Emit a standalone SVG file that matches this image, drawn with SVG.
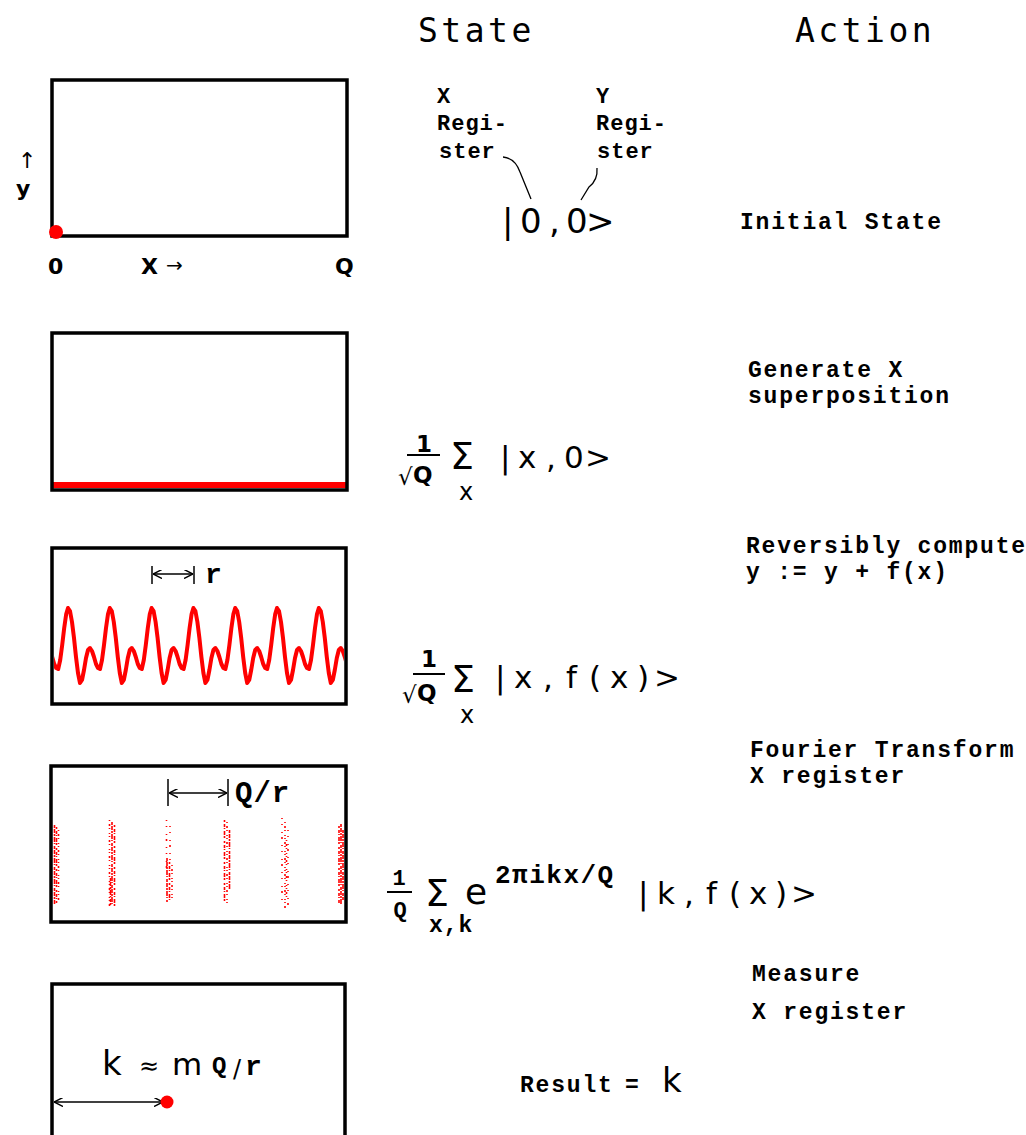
<svg xmlns="http://www.w3.org/2000/svg" width="1026" height="1135" viewBox="0 0 1026 1135">
<style>
.bg{fill:#fff}
.box{fill:none;stroke:#000;stroke-width:3.5}
.hdr{font-family:"DejaVu Sans Mono",monospace;font-size:33px;letter-spacing:3.5px;fill:#000}
.act{font-family:"Liberation Mono","Courier New",monospace;font-weight:bold;font-size:23px;letter-spacing:1.8px;fill:#000}
.reg{font-family:"Liberation Mono","Courier New",monospace;font-weight:bold;font-size:22px;letter-spacing:1px;fill:#000}
.cb{font-family:"Liberation Mono","Courier New",monospace;font-weight:bold;fill:#000}
.ss{font-family:"DejaVu Sans",sans-serif;fill:#000}
.sb{font-family:"DejaVu Sans",sans-serif;font-weight:bold;fill:#000}
.ket{font-family:"DejaVu Sans",sans-serif;font-size:31px;fill:#000}
.thin{fill:none;stroke:#000;stroke-width:1.3}
.bar{stroke:#000;stroke-width:2}
.dim{stroke:#000;stroke-width:1.5;fill:none}
.red{fill:#f00}
.wave{fill:none;stroke:#f00;stroke-width:4;stroke-linejoin:round}
.sp{stroke:#f00;stroke-width:1.6;fill:none}
.a{stroke-dasharray:3 1 4 1 2 1 5 1 1 2}
.b{stroke-dasharray:2 2 3 1 1 2 4 1 2 3}
.c{stroke-dasharray:1 3 2 2 1 4 1 2}
.d{stroke-dasharray:1 5 1 7 1 4 2 6}
</style>
<defs>
<marker id="ah" viewBox="0 0 10 10" refX="10" refY="5" markerWidth="9" markerHeight="9" markerUnits="userSpaceOnUse" orient="auto-start-reverse">
<path d="M0,0 L10,5 L0,10" fill="none" stroke="#000" stroke-width="1.6"/>
</marker>
<clipPath id="clip3"><rect x="54" y="550" width="290" height="152"/></clipPath>
</defs>
<rect class="bg" x="0" y="0" width="1026" height="1135"/>

<g id="header">
<text class="hdr" x="418" y="42">State</text>
<text class="hdr" x="795" y="42">Action</text>
</g>

<g id="panel-1">
<rect class="box" x="52" y="80" width="295" height="156"/>
<circle class="red" cx="56" cy="232" r="7"/>
<text class="ss" x="18" y="168" font-size="22">↑</text>
<text class="sb" x="16" y="196" font-size="22">y</text>
<text class="sb" x="48" y="274" font-size="22">0</text>
<text class="sb" x="141" y="274" font-size="22">X</text>
<text class="ss" x="166" y="272" font-size="20">→</text>
<text class="sb" x="335" y="274" font-size="22">Q</text>
</g>

<g id="state-1">
<text class="reg" x="437" y="103">X</text>
<text class="reg" x="437" y="130">Regi-</text>
<text class="reg" x="439" y="158">ster</text>
<text class="reg" x="596" y="103">Y</text>
<text class="reg" x="596" y="130">Regi-</text>
<text class="reg" x="597" y="158">ster</text>
<text class="ss" font-size="34" x="502 520 549 566 586" y="233">|0,0&gt;</text>
</g>
<g id="action-1"><text class="act" x="740" y="229">Initial State</text></g>

<g id="panel-2">
<rect class="red" x="53" y="482" width="293" height="6"/>
<rect class="box" x="52" y="333" width="295" height="157"/>
</g>
<g id="state-2">
<text class="sb" x="424" y="452" font-size="23" text-anchor="middle">1</text>
<line class="bar" x1="407" y1="455" x2="440" y2="455"/>
<text class="ss" x="398" y="485" font-size="23">√</text>
<text class="sb" x="413" y="483" font-size="23">Q</text>
<text class="ss" x="450" y="469" font-size="38">Σ</text>
<text class="ss" x="466" y="500" font-size="24" text-anchor="middle">x</text>
<text class="ket" x="500 518 546 564 585" y="468">|x,0&gt;</text>
</g>
<g id="action-2">
<text class="act" x="748" y="377">Generate X</text>
<text class="act" x="748" y="403">superposition</text>
</g>

<g id="panel-3">
<path class="wave" clip-path="url(#clip3)" d="M26.2,608 l2,3 2,11 2,16 2,19 2,16 2,10 2,-3 2,-10 2,-12 2,-8 2,-2 2,3 2,6 2,7 2,4 2,1 2,-9 2,-15 2,-17 2,-14 1.8,-6 l2,3 2,11 2,16 2,19 2,16 2,10 2,-3 2,-10 2,-12 2,-8 2,-2 2,3 2,6 2,7 2,4 2,1 2,-9 2,-15 2,-17 2,-14 1.8,-6 l2,3 2,11 2,16 2,19 2,16 2,10 2,-3 2,-10 2,-12 2,-8 2,-2 2,3 2,6 2,7 2,4 2,1 2,-9 2,-15 2,-17 2,-14 1.8,-6 l2,3 2,11 2,16 2,19 2,16 2,10 2,-3 2,-10 2,-12 2,-8 2,-2 2,3 2,6 2,7 2,4 2,1 2,-9 2,-15 2,-17 2,-14 1.8,-6 l2,3 2,11 2,16 2,19 2,16 2,10 2,-3 2,-10 2,-12 2,-8 2,-2 2,3 2,6 2,7 2,4 2,1 2,-9 2,-15 2,-17 2,-14 1.8,-6 l2,3 2,11 2,16 2,19 2,16 2,10 2,-3 2,-10 2,-12 2,-8 2,-2 2,3 2,6 2,7 2,4 2,1 2,-9 2,-15 2,-17 2,-14 1.8,-6 l2,3 2,11 2,16 2,19 2,16 2,10 2,-3 2,-10 2,-12 2,-8 2,-2 2,3 2,6 2,7 2,4 2,1 2,-9 2,-15 2,-17 2,-14 1.8,-6 l2,3 2,11 2,16 2,19 2,16 2,10 2,-3 2,-10 2,-12 2,-8 2,-2 2,3 2,6 2,7 2,4 2,1 2,-9 2,-15 2,-17 2,-14 1.8,-6"/>
<rect class="box" x="52" y="548" width="294" height="156"/>
<line class="dim" x1="152" y1="566" x2="152" y2="584"/>
<line class="dim" x1="194" y1="566" x2="194" y2="584"/>
<line class="dim" x1="153" y1="574" x2="193" y2="574" marker-start="url(#ah)" marker-end="url(#ah)"/>
<text class="cb" x="205" y="583" font-size="28">r</text>
</g>
<g id="state-3">
<text class="sb" x="429" y="667" font-size="23" text-anchor="middle">1</text>
<line class="bar" x1="413" y1="674" x2="445" y2="674"/>
<text class="ss" x="402" y="703" font-size="23">√</text>
<text class="sb" x="417" y="701" font-size="23">Q</text>
<text class="ss" x="451" y="692" font-size="38">Σ</text>
<text class="ss" x="467" y="723" font-size="24" text-anchor="middle">x</text>
<text class="ket" x="495 514 543 566 589 610 637 654" y="688">|x,f(x)&gt;</text>
</g>
<g id="action-3">
<text class="act" x="746" y="553">Reversibly compute</text>
<text class="act" x="746" y="579">y := y + f(x)</text>
</g>

<g id="panel-4">
<g id="spectrum">
<line class="sp a" x1="54.5" y1="825" x2="54.5" y2="904"/>
<line class="sp b" x1="56.5" y1="827" x2="56.5" y2="903"/>
<line class="sp c" x1="58.5" y1="830" x2="58.5" y2="900"/>
<line class="sp c" x1="109.5" y1="820" x2="109.5" y2="908"/>
<line class="sp a" x1="112" y1="822" x2="112" y2="906"/>
<line class="sp b" x1="114.5" y1="825" x2="114.5" y2="908"/>
<line class="sp a" x1="110.5" y1="878" x2="110.5" y2="905"/>
<line class="sp d" x1="166.5" y1="820" x2="166.5" y2="870"/>
<line class="sp d" x1="170" y1="826" x2="170" y2="862"/>
<line class="sp a" x1="167" y1="858" x2="167" y2="902"/>
<line class="sp b" x1="169.5" y1="862" x2="169.5" y2="900"/>
<line class="sp c" x1="172" y1="865" x2="172" y2="898"/>
<line class="sp b" x1="224.5" y1="820" x2="224.5" y2="902"/>
<line class="sp c" x1="227" y1="822" x2="227" y2="906"/>
<line class="sp a" x1="229.5" y1="830" x2="229.5" y2="890"/>
<line class="sp d" x1="282" y1="818" x2="282" y2="905"/>
<line class="sp c" x1="285" y1="822" x2="285" y2="910"/>
<line class="sp d" x1="288" y1="830" x2="288" y2="908"/>
<line class="sp c" x1="286.5" y1="840" x2="286.5" y2="900"/>
<line class="sp b" x1="339" y1="826" x2="339" y2="903"/>
<line class="sp a" x1="341" y1="824" x2="341" y2="904"/>
<line class="sp a" x1="343" y1="830" x2="343" y2="900"/>
</g>
<rect class="box" x="51" y="766" width="295" height="156"/>
<line class="dim" x1="168" y1="779" x2="168" y2="806"/>
<line class="dim" x1="228" y1="779" x2="228" y2="806"/>
<line class="dim" x1="169" y1="793" x2="227" y2="793" marker-start="url(#ah)" marker-end="url(#ah)"/>
<text class="cb" x="235" y="802" font-size="29" letter-spacing="1">Q/r</text>
</g>
<g id="state-4">
<text class="cb" x="399" y="885" font-size="22" text-anchor="middle">1</text>
<line class="bar" x1="387" y1="892" x2="412" y2="892"/>
<text class="cb" x="400" y="917" font-size="22" text-anchor="middle">Q</text>
<text class="ss" x="425" y="906" font-size="38">Σ</text>
<text class="cb" x="429" y="932" font-size="23" letter-spacing="1">x,k</text>
<text class="ss" x="465" y="904" font-size="36">e</text>
<text class="cb" x="495" y="883" font-size="26" letter-spacing="1.5">2πikx/Q</text>
<text class="ket" x="638 657 684 706 729 749 775 791" y="904">|k,f(x)&gt;</text>
</g>
<g id="action-4">
<text class="act" x="750" y="757">Fourier Transform</text>
<text class="act" x="750" y="783">X register</text>
</g>

<g id="panel-5">
<rect class="box" x="52" y="984" width="293" height="170"/>
<text class="ss" x="102" y="1075" font-size="34">k</text>
<text class="ss" x="139" y="1074" font-size="24">≈</text>
<text class="ss" x="172" y="1075" font-size="31">m</text>
<text class="cb" x="212" y="1073" font-size="24">Q</text>
<text class="ss" x="233" y="1077" font-size="24">/</text>
<text class="cb" x="245" y="1075" font-size="28">r</text>
<line class="dim" x1="54" y1="1102" x2="163" y2="1102" marker-start="url(#ah)" marker-end="url(#ah)"/>
<circle class="red" cx="167" cy="1102" r="6.5"/>
</g>
<g id="state-5">
<text class="act" x="520" y="1092">Result</text>
<text class="act" x="625" y="1092">=</text>
<text class="ss" x="662" y="1092" font-size="34">k</text>
</g>
<g id="action-5">
<text class="act" x="752" y="981">Measure</text>
<text class="act" x="752" y="1019">X register</text>
</g>

<g id="connectors">
<path class="thin" d="M503,157 Q515,158 520,172 L531,199"/>
<path class="thin" d="M597,168 Q598,180 589,187 L581,200"/>
</g>
</svg>
